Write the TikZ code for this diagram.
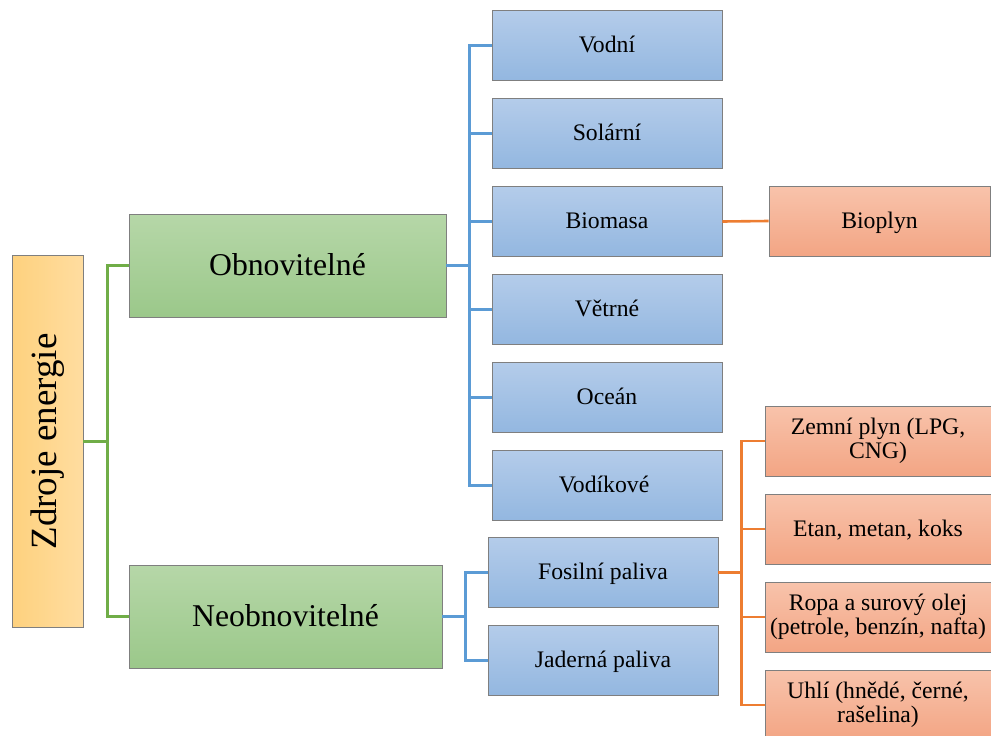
\documentclass[tikz,border=0pt]{standalone}
\usepackage{fontspec}
\setmainfont{Liberation Serif}
\usepackage{tikz}
\usetikzlibrary{positioning, calc}
\definecolor{linegreen}{HTML}{70AD47}
\definecolor{lineblue}{HTML}{5B9BD5}
\definecolor{lineorange}{HTML}{ED7D31}
\definecolor{boxedge}{HTML}{7F7F7F}
\definecolor{blueTop}{HTML}{B4CCEA}
\definecolor{blueBot}{HTML}{93B7E0}
\definecolor{orangeTop}{HTML}{F8C3AB}
\definecolor{orangeBot}{HTML}{F3A584}
\definecolor{greenTop}{HTML}{B6D7A8}
\definecolor{greenBot}{HTML}{9BC88A}
\definecolor{yellowTop}{HTML}{FFDDA0}
\definecolor{yellowBot}{HTML}{FED17E}
\tikzset{
  basebox/.style={rectangle, draw=boxedge, line width=0.9pt, inner sep=2pt, align=center, text=black},
  oneline/.style={text height=19.5pt, text depth=5pt},
  rootbox/.style={basebox, rotate=90, minimum width=372pt, minimum height=71pt, left color=yellowBot, right color=yellowTop,
    font=\fontsize{37}{40}\selectfont},
  groupbox/.style={basebox, text height=27pt, text depth=7pt, minimum height=103pt, top color=greenTop, bottom color=greenBot,
    font=\fontsize{31.7}{34}\selectfont},
  kindbox/.style={basebox, oneline, minimum width=230pt, minimum height=70pt, top color=blueTop, bottom color=blueBot,
    font=\fontsize{23.7}{25}\selectfont},
  fuelbox/.style={basebox, minimum width=226pt, minimum height=70pt, top color=orangeTop, bottom color=orangeBot,
    font=\fontsize{23.7}{24.5}\selectfont},
  gline/.style={linegreen, line width=2.6pt},
  bline/.style={lineblue, line width=2.6pt},
  oline/.style={lineorange, line width=2.6pt}
}

\begin{document}
\begin{tikzpicture}[x=1pt, y=-1pt]
  \useasboundingbox (0,0) rectangle (991,736);
  \clip (0,0) rectangle (991,736);

  % Koren (otoceny, jeho south je vpravo)
  \node[rootbox] (zdroje) at (47.5,441.5) {Zdroje energie};

  % Obnovitelne / neobnovitelne
  \node[groupbox, minimum width=317pt] (obn) at (287.5,265.5) {Obnovitelné};
  \node[groupbox, minimum width=313pt] (neobn) at (285.5,616.5) {Neobnovitelné};

  \draw[gline] (zdroje.south) -- ++(24,0) coordinate (gj);
  \draw[gline] (gj) |- (obn.west);
  \draw[gline] (gj) |- (neobn.west);

  % Obnovitelne zdroje
  \draw[bline] (obn.east) -- ++(23,0) coordinate (bj);
  \foreach \i/\name/\txt in {
      0/vodni/Vodní, 1/solarni/Solární, 2/biomasa/Biomasa,
      3/vetrne/Větrné, 4/ocean/Oceán, 5/vodikove/Vodíkové
  } {
      \node[kindbox] (\name) at (607,45.5+88*\i) {\txt};
      \draw[bline] (bj) |- (\name.west);
  }

  \node[fuelbox, oneline, minimum width=221pt] (bioplyn) at (879.5,221) {Bioplyn};
  \draw[oline] (biomasa.east) -- (bioplyn.west);

  % Neobnovitelne zdroje
  \draw[bline] (neobn.east) -- ++(23,0) coordinate (nj);
  \node[kindbox] (fosilni) at (603,572.5) {Fosilní paliva};
  \node[kindbox] (jaderna) at (603,660.5) {Jaderná paliva};
  \draw[bline] (nj) |- (fosilni.west);
  \draw[bline] (nj) |- (jaderna.west);

  % Fosilni paliva
  \node[fuelbox] (zemni) at (878,441) {Zemní plyn (LPG,\\CNG)};
  \node[fuelbox, oneline] (etan) at (878,529) {Etan, metan, koks};
  \node[fuelbox] (ropa) at (878,617) {Ropa a surový olej\\(petrole, benzín, nafta)};
  \node[fuelbox] (uhli) at (878,705) {Uhlí (hnědé, černé,\\rašelina)};

  \draw[oline] (fosilni.east) -- ++(23,0) coordinate (oj);
  \foreach \name in {zemni, etan, ropa, uhli}
      \draw[oline] (oj) |- (\name.west);
\end{tikzpicture}
\end{document}
